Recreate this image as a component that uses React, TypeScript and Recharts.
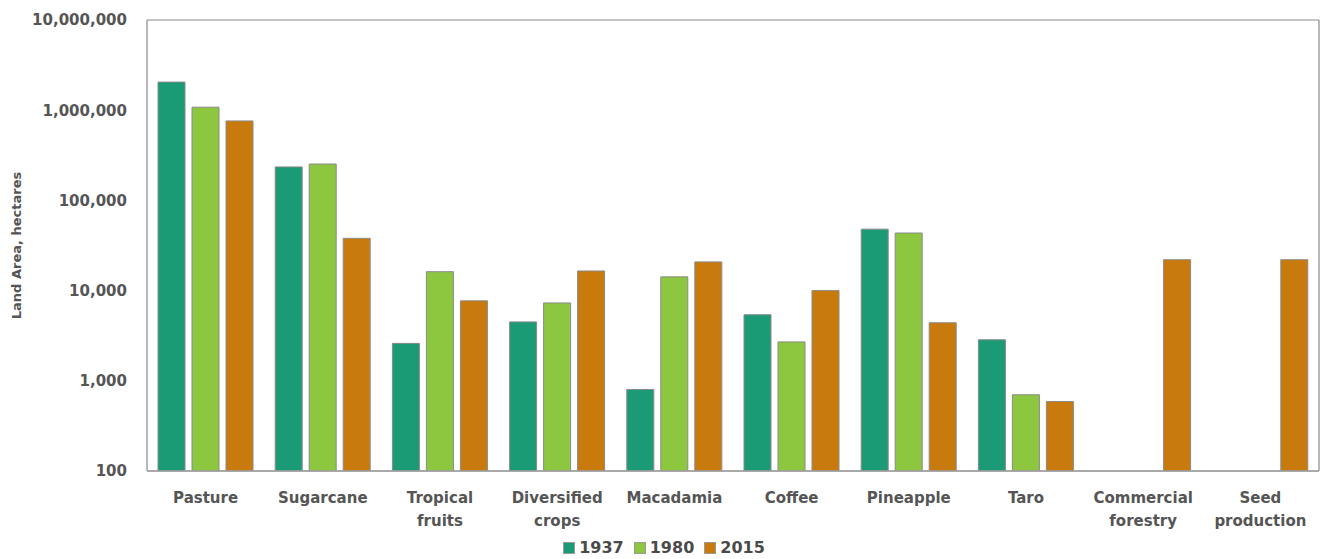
import React from 'react';
import { BarChart, Bar, XAxis, YAxis, CartesianGrid, Legend, Label } from 'recharts';

const categories = [
  'Pasture',
  'Sugarcane',
  'Tropical\nfruits',
  'Diversified\ncrops',
  'Macadamia',
  'Coffee',
  'Pineapple',
  'Taro',
  'Commercial\nforestry',
  'Seed\nproduction',
];
const area1937 = [2050000, 235000, 2600, 4500, 800, 5400, 48000, 2850, null, null];
const area1980 = [1080000, 253000, 16200, 7300, 14200, 2700, 43500, 700, null, null];
const area2015 = [760000, 38000, 7700, 16500, 20800, 10000, 4400, 590, 22000, 22000];
const yTicks = [100, 1000, 10000, 100000, 1000000, 10000000];

const series = [
  { key: 'y1937', name: '1937', color: '#1b9a76' },
  { key: 'y1980', name: '1980', color: '#8dc63f' },
  { key: 'y2015', name: '2015', color: '#c97a0d' },
];

const data = categories.map((c, i) => ({
  category: c,
  y1937: area1937[i],
  y1980: area1980[i],
  y2015: area2015[i],
}));

const FONT = '"DejaVu Sans", Verdana, sans-serif';
const TEXT = '#555555';

const CategoryTick = (props: any) => {
  const { x, y, payload } = props;
  const lines = String(payload.value).split('\n');
  return (
    <text x={x} y={y + 24} textAnchor="middle" fill={TEXT} fontFamily={FONT} fontWeight="bold" fontSize={15}>
      {lines.map((l, i) => (
        <tspan key={i} x={x} dy={i === 0 ? 0 : 23}>
          {l}
        </tspan>
      ))}
    </text>
  );
};

const renderLegend = () => (
  <div style={{ display: 'flex', justifyContent: 'center', gap: 10, fontFamily: FONT, fontWeight: 'bold', fontSize: 16, color: '#4a4a4a', paddingLeft: 8, lineHeight: '22px' }}>
    {series.map((s) => (
      <span key={s.key} style={{ display: 'flex', alignItems: 'center' }}>
        <span style={{ width: 10, height: 10, background: s.color, display: 'inline-block', marginRight: 4, border: '1px solid #9a9a9a' }} />
        {s.name}
      </span>
    ))}
  </div>
);

export default function App() {
  return (
    <div style={{ position: 'absolute', left: 0, top: 0, background: '#fff' }}>
      <BarChart
        width={1321}
        height={559}
        data={data}
        margin={{ top: 20, right: 1, left: 0, bottom: 0 }}
        barCategoryGap={11}
        barGap={7}
      >
        <CartesianGrid vertical={false} stroke="#b0b0b0" strokeWidth={1.5} />
        <XAxis
          dataKey="category"
          interval={0}
          tick={<CategoryTick />}
          tickLine={false}
          axisLine={{ stroke: '#a0a0a0', strokeWidth: 1.5 }}
          height={66}
        />
        <YAxis
          yAxisId="left"
          scale="log"
          domain={[100, 10000000]}
          ticks={yTicks}
          allowDataOverflow
          width={147}
          tickLine={false}
          axisLine={{ stroke: '#a0a0a0', strokeWidth: 1.5 }}
          tickFormatter={(v: number) => v.toLocaleString('en-US')}
          tick={{ fill: TEXT, fontFamily: FONT, fontWeight: 'bold', fontSize: 15 }}
          tickMargin={14}
        >
          <Label
            value="Land Area, hectares"
            angle={-90}
            position="insideLeft"
            offset={16}
            style={{ fill: TEXT, fontFamily: FONT, fontWeight: 'bold', fontSize: 13, textAnchor: 'middle' }}
          />
        </YAxis>
        <YAxis
          yAxisId="right"
          orientation="right"
          width={1}
          tick={false}
          tickLine={false}
          axisLine={{ stroke: '#a0a0a0', strokeWidth: 1.5 }}
        />
        {series.map((s) => (
          <Bar
            key={s.key}
            yAxisId="left"
            dataKey={s.key}
            name={s.name}
            fill={s.color}
            stroke="#8a8a8a"
            strokeWidth={1}
            isAnimationActive={false}
          />
        ))}
        <Legend verticalAlign="bottom" height={22} content={renderLegend} />
      </BarChart>
    </div>
  );
}
